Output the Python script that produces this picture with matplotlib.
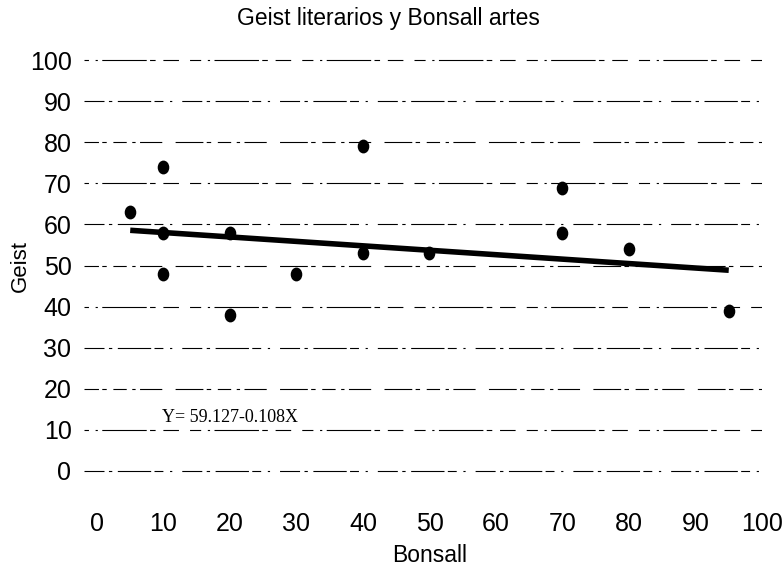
import matplotlib.pyplot as plt
from matplotlib.path import Path
from matplotlib.transforms import Affine2D
import numpy as np

# Bonsall (x) vs Geist (y)
bonsall = [5, 10, 10, 10, 20, 20, 30, 40, 40, 50, 70, 70, 80, 95]
geist = [63, 74, 58, 48, 58, 38, 48, 79, 53, 53, 69, 58, 54, 39]
intercept = 59.127
slope = -0.108
ticks = [0, 10, 20, 30, 40, 50, 60, 70, 80, 90, 100]
title = 'Geist literarios y Bonsall artes'
eq_label = 'Y= 59.127-0.108X'

plt.rcParams['font.family'] = ['Liberation Sans', 'DejaVu Sans']

W, H = 784, 577
fig = plt.figure(figsize=(W / 100, H / 100), dpi=100)
ax = fig.add_axes([84 / W, (H - 479) / H, (762 - 84) / W, 425 / H])
ax.set_xlim(-1.95, 100)
ax.set_ylim(-1.95, 101.5)

# broken, scanned-looking gridlines
pats = [(0, (18, 4, 3, 5, 30, 3, 8, 6, 2, 9)), (6, (10, 6, 2, 4, 40, 3, 5, 7, 14, 10)),
        (12, (25, 3, 4, 6, 12, 5, 3, 4, 20, 12))]
for i, t in enumerate(ticks):
    ax.axhline(t, color='black', lw=0.8, linestyle=pats[i % 3], zorder=1)

# ellipse marker (scanned dots are a bit taller than wide)
circ = Path.unit_circle()
oval = Path(Affine2D().scale(0.82, 1.0).transform(circ.vertices), circ.codes)
ax.scatter(bonsall, geist, marker=oval, s=80, color='black', zorder=3)

xs = np.array([min(bonsall), max(bonsall)])
ax.plot(xs, intercept + slope * xs, color='black', lw=4, solid_capstyle='butt', zorder=2)

ax.text(9.8, 11.9, eq_label, family=['Liberation Serif', 'DejaVu Serif'],
        fontsize=13, ha='left', va='baseline')

ax.set_xticks(ticks)
ax.set_yticks(ticks)
ax.tick_params(length=0, labelsize=18)
ax.tick_params(axis='x', pad=24)
ax.tick_params(axis='y', pad=9)
for s in ax.spines.values():
    s.set_visible(False)

fig.text(388 / W, 1 - 18 / H, title, ha='center', va='center', fontsize=16.5)
fig.text(20 / W, 1 - 266 / H, 'Geist', rotation=90, ha='center', va='center', fontsize=16)
fig.text(430 / W, 1 - 555 / H, 'Bonsall', ha='center', va='center', fontsize=16.5)

fig.savefig('out.png', dpi=100)
